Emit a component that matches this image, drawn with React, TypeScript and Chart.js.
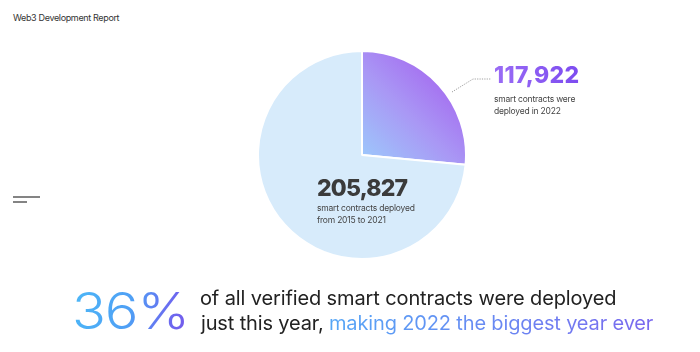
import React, { useEffect, useRef } from "react";
import { Chart, registerables } from "chart.js";

Chart.register(...registerables);

// Data
const sliceLabels = ["Deployed in 2022", "Deployed 2015–2021"];
const sliceShares = [26.5, 73.5]; // visual share of the pie as drawn
const countLabels = ["117,922", "205,827"];
const captions2022 = ["smart contracts were", "deployed in 2022"];
const captionsPast = ["smart contracts deployed", "from 2015 to 2021"];
const headline = "36%";
const line1 = "of all verified smart contracts were deployed";
const line2Dark = "just this year, ";
const line2Color = "making 2022 the biggest year ever";
const reportTitle = "Web3 Development Report";

const FONT = "Inter, 'Noto Sans', 'DejaVu Sans', sans-serif";

export default function App() {
  const ref = useRef<HTMLCanvasElement | null>(null);

  useEffect(() => {
    if (!ref.current) return;
    const chart = new Chart(ref.current, {
      type: "pie",
      data: {
        labels: sliceLabels,
        datasets: [
          {
            data: sliceShares,
            backgroundColor: (ctx: any) => {
              if (ctx.dataIndex !== 0) return "#d7ebfb";
              const c = ctx.chart;
              const area = c.chartArea;
              if (!area) return "#a57cf3";
              const cx = (area.left + area.right) / 2;
              const cy = (area.top + area.bottom) / 2;
              const r = Math.min(area.width, area.height) / 2;
              const g = c.ctx.createLinearGradient(cx, cy, cx + r * 0.75, cy - r * 0.75);
              g.addColorStop(0, "#9dc6fb");
              g.addColorStop(0.55, "#a998f5");
              g.addColorStop(1, "#a56ef0");
              return g;
            },
            borderColor: "#ffffff",
            borderWidth: 2,
            hoverOffset: 0,
          },
        ],
      },
      options: {
        responsive: false,
        animation: false,
        plugins: { legend: { display: false }, tooltip: { enabled: false } },
        layout: { padding: 0 },
      },
    });
    return () => chart.destroy();
  }, []);

  const abs = (x: number, y: number, extra: React.CSSProperties = {}): React.CSSProperties => ({
    position: "absolute",
    left: x,
    top: y,
    whiteSpace: "nowrap",
    fontFamily: FONT,
    ...extra,
  });

  const gradText = (bg: string): React.CSSProperties => ({
    background: bg,
    WebkitBackgroundClip: "text",
    backgroundClip: "text",
    color: "transparent",
  });

  return (
    <div
      style={{
        position: "fixed",
        left: 0,
        top: 0,
        width: 700,
        height: 352,
        background: "#ffffff",
        overflow: "hidden",
      }}
    >
      <div style={abs(13, 12, { fontSize: 9, lineHeight: "12px", color: "#333", letterSpacing: -0.35 })}>
        {reportTitle}
      </div>

      <canvas ref={ref} width={210} height={210} style={{ position: "absolute", left: 257, top: 50 }} />

      <svg style={{ position: "absolute", left: 0, top: 0 }} width={700} height={352}>
        <polyline
          points="452,92 473,79 491,79"
          fill="none"
          stroke="#888"
          strokeWidth={0.8}
          strokeDasharray="1.2 1.2"
        />
        <line x1={13} y1={197} x2={40} y2={197} stroke="#666" strokeWidth={1.6} />
        <line x1={13} y1={202} x2={27} y2={202} stroke="#666" strokeWidth={1.6} />
      </svg>

      <div
        style={abs(494, 62, {
          fontSize: 23,
          lineHeight: "26px",
          fontWeight: 800,
          letterSpacing: 0.3,
          ...gradText("linear-gradient(90deg, #9a6cf5, #7d4cf0)"),
        })}
      >
        {countLabels[0]}
      </div>
      <div style={abs(494, 93, { fontSize: 8.5, lineHeight: "12px", color: "#444", letterSpacing: -0.2 })}>
        {captions2022[0]}
        <br />
        {captions2022[1]}
      </div>

      <div style={abs(317, 174.5, { fontSize: 23, lineHeight: "26px", fontWeight: 800, color: "#3b3b3b", letterSpacing: -0.8 })}>
        {countLabels[1]}
      </div>
      <div style={abs(317, 202, { fontSize: 8.5, lineHeight: "12.4px", color: "#444", letterSpacing: -0.2 })}>
        {captionsPast[0]}
        <br />
        {captionsPast[1]}
      </div>

      <div
        style={abs(72, 283, {
          fontSize: 50,
          lineHeight: "56px",
          fontWeight: 300,
          letterSpacing: -1,
          transform: "scaleX(1.12)",
          transformOrigin: "left center",
          ...gradText("linear-gradient(100deg, #4cb8f7 0%, #4f9ff5 50%, #6a6cf0 80%, #7656ea 100%)"),
        })}
      >
        {headline}
      </div>
      <div style={abs(200, 287, { fontSize: 20, lineHeight: "22px", color: "#222", letterSpacing: -0.12 })}>
        {line1}
      </div>
      <div style={abs(201, 312, { fontSize: 20, lineHeight: "22px", color: "#222", letterSpacing: -0.15 })}>
        {line2Dark}
        <span style={gradText("linear-gradient(90deg, #55a6f6 0%, #6a86f2 55%, #7a68ee 100%)")}>{line2Color}</span>
      </div>
    </div>
  );
}
